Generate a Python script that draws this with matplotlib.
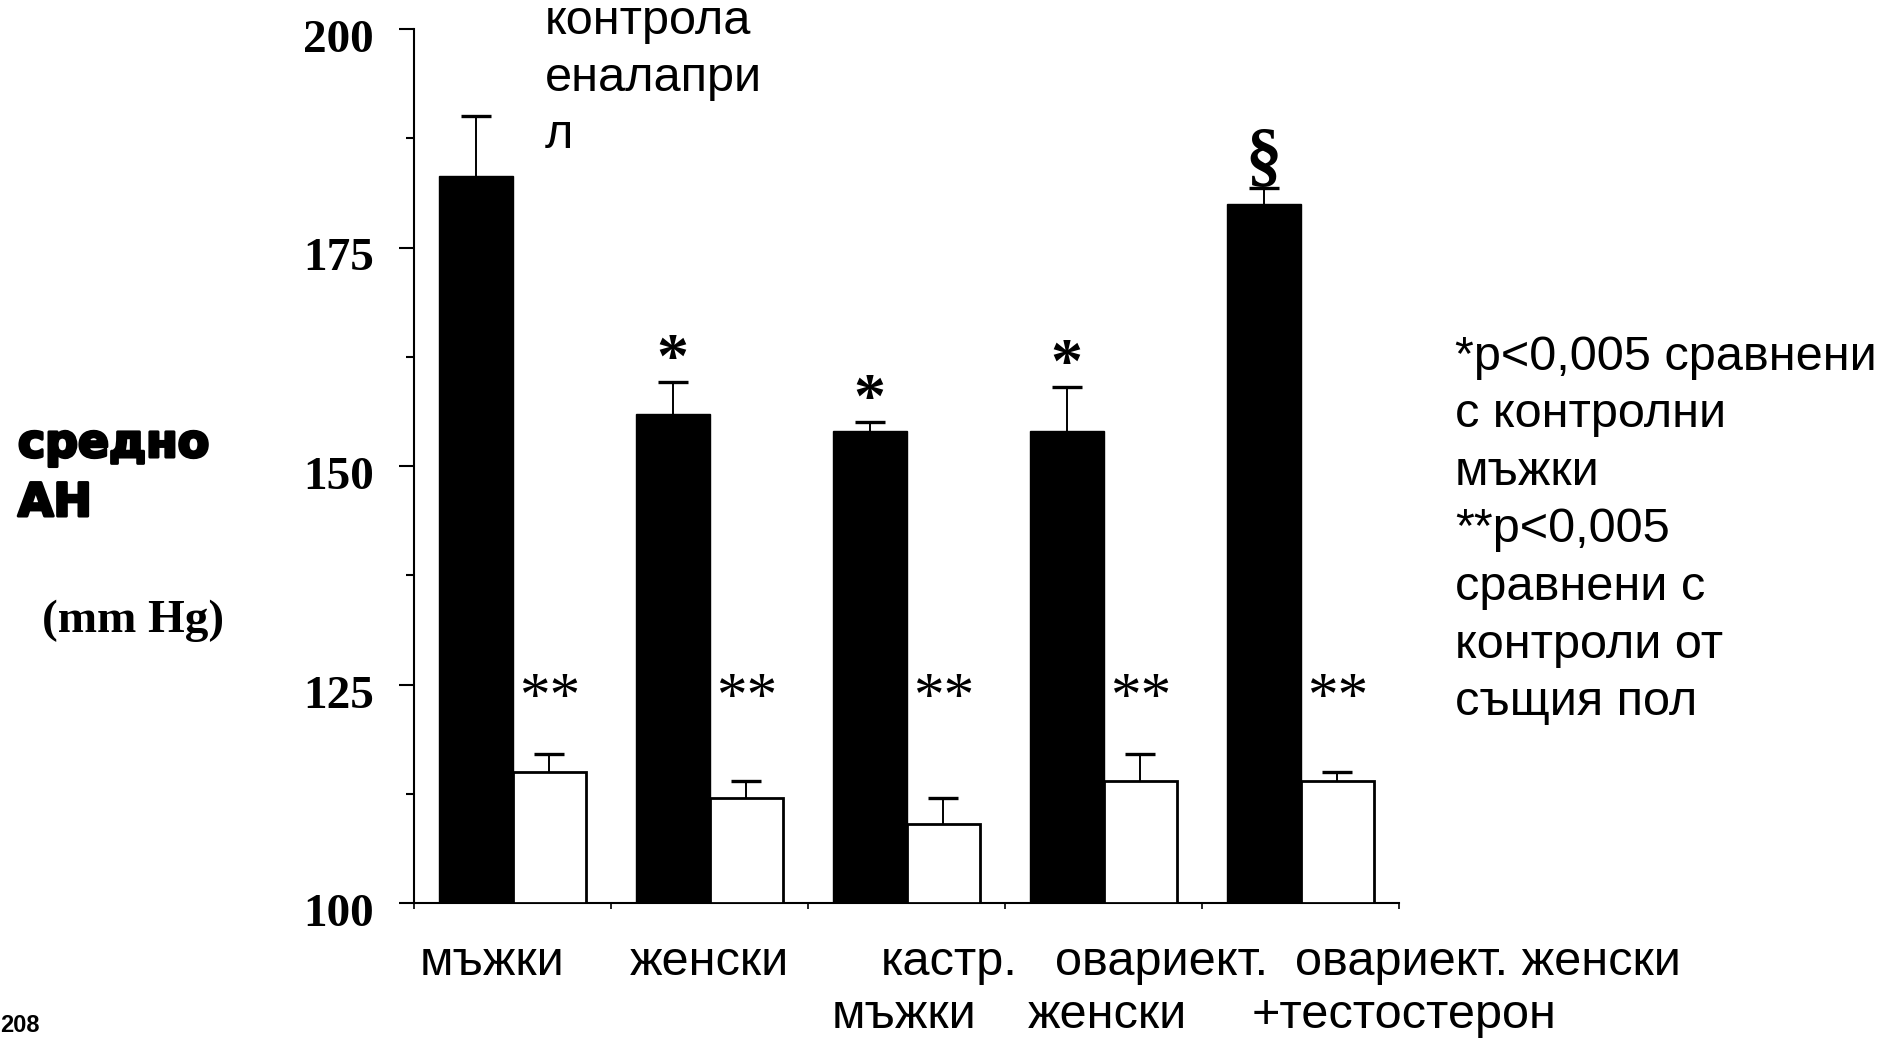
import numpy as np
import matplotlib
matplotlib.use("Agg")
import matplotlib.pyplot as plt
import matplotlib.patheffects as pe
from matplotlib.ticker import MultipleLocator
from matplotlib.transforms import ScaledTranslation

# средно АН (mm Hg) - контроли и еналаприл по групи
control = [183.2, 156.0, 154.0, 154.0, 180.0]
control_err = [6.8, 3.6, 1.0, 5.0, 1.8]
enalapril = [115.0, 112.0, 109.0, 114.0, 114.0]
enalapril_err = [2.0, 2.0, 3.0, 3.0, 1.0]

star_marks = ["", "*", "*", "*", "§"]
dstar_marks = ["**"] * 5

cat_line1 = ["мъжки", "женски", "кастр.", "овариект.", "овариект. женски"]
cat_line2 = ["мъжки", "женски", "+тестостерон"]
legend_lines = ["*р<0,005 сравнени", "с контролни", "мъжки", "**р<0,005",
                "сравнени с", "контроли от", "същия пол"]
series_lines = ["контрола", "еналапри", "л"]

W, H = 1901, 1038
fig = plt.figure(figsize=(W / 100, H / 100), dpi=100)
fig.patch.set_facecolor("white")

def px(x, y):
    return x / W, 1 - y / H

ax = fig.add_axes([414 / W, 135 / H, (1399 - 414) / W, (1009 - 135) / H])
ax.set_xlim(0, 5)
ax.set_ylim(100, 200)

x = np.arange(5)
bw = 0.373
xb = x + 0.5 - bw / 2
xw = x + 0.5 + bw / 2

ax.bar(xb, np.array(control) - 100, bottom=100, width=bw,
       color="black", edgecolor="black", linewidth=1, zorder=3)
ax.bar(xw, np.array(enalapril) - 100, bottom=100, width=bw,
       color="white", edgecolor="black", linewidth=2, zorder=3)

for xs, vals, errs in [(xb, control, control_err), (xw, enalapril, enalapril_err)]:
    eb = ax.errorbar(xs, vals, yerr=[np.zeros(5), errs], fmt="none",
                     ecolor="black", elinewidth=1.4, capsize=11, capthick=2.4,
                     zorder=2)
    eb[1][0].set_visible(False)

serif = "Liberation Serif"
for i in range(5):
    if star_marks[i] == "*":
        ax.text(xb[i], control[i] + control_err[i] + 0.6, "*", ha="center",
                va="baseline", fontsize=46, family=serif, fontweight="bold")
    elif star_marks[i] == "§":
        ax.text(xb[i], control[i] + control_err[i] + 1.2, "§", ha="center",
                va="baseline", fontsize=52, family=serif, fontweight="bold")
    ax.text(xw[i], 121.6, dstar_marks[i], ha="center", va="baseline",
            fontsize=44, family=serif)

# оси
for s in ["top", "right"]:
    ax.spines[s].set_visible(False)
ax.spines["left"].set_linewidth(1.5)
ax.spines["bottom"].set_linewidth(1.5)
ax.set_yticks([100, 125, 150, 175, 200])
ax.yaxis.set_minor_locator(MultipleLocator(12.5))
ax.tick_params(axis="y", which="major", length=10.8, width=1.5, pad=18,
               labelsize=34)
ax.tick_params(axis="y", which="minor", length=5.8, width=1.5)
ax.set_xticks(np.arange(6))
ax.set_xticklabels([])
ax.tick_params(axis="x", which="major", length=4.3, width=1.2)
for lab in ax.get_yticklabels():
    lab.set_family(serif)
    lab.set_fontweight("bold")
    lab.set_transform(lab.get_transform() +
                      ScaledTranslation(0, -7 / 100, fig.dpi_scale_trans))

sans = "Liberation Sans"
# надписи под групите
for txt, xl in zip(cat_line1, [420, 630, 881, 1055, 1295]):
    fig.text(*px(xl, 975), txt, fontsize=35, family=sans, va="baseline")
for txt, xl in zip(cat_line2, [832, 1028, 1252]):
    fig.text(*px(xl, 1028), txt, fontsize=35, family=sans, va="baseline")

for k, txt in enumerate(legend_lines):
    fig.text(*px(1455, 370 + 57.5 * k), txt, fontsize=35, family=sans,
             va="baseline")
for k, txt in enumerate(series_lines):
    fig.text(*px(545, 34 + 57 * k), txt, fontsize=35, family=sans,
             va="baseline")

heavy = [pe.withStroke(linewidth=2.2, foreground="black")]
fig.text(*px(18, 457), "средно", fontsize=33, family="DejaVu Sans",
         fontweight="bold", va="baseline", path_effects=heavy)
fig.text(*px(18, 516), "АН", fontsize=33, family="DejaVu Sans",
         fontweight="bold", va="baseline", path_effects=heavy)
fig.text(*px(42, 632), "(mm Hg)", fontsize=34, family=serif,
         fontweight="bold", va="baseline")
fig.text(*px(0, 1032), "208", fontsize=17, family=sans, fontweight="bold",
         va="baseline")

fig.savefig("out.png", dpi=100, facecolor="white")
